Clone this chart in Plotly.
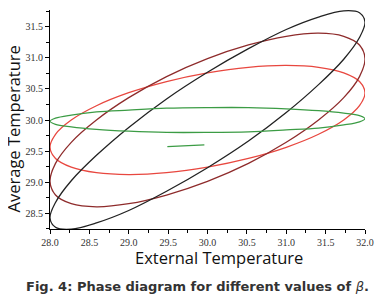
import plotly.graph_objects as go

# External temperature samples (shared forcing, one full cycle)
ext_temp = [32.00, 31.93, 31.73, 31.41, 31.00, 30.52, 30.00, 29.48, 29.00, 28.59, 28.27, 28.07,
            28.00, 28.07, 28.27, 28.59, 29.00, 29.48, 30.00, 30.52, 31.00, 31.41, 31.73, 31.93]

# Average temperature responses
avg_black = [31.58, 31.73, 31.76, 31.66, 31.46, 31.15, 30.77, 30.34, 29.88, 29.43, 29.02, 28.67,
             28.42, 28.27, 28.24, 28.34, 28.54, 28.85, 29.23, 29.66, 30.12, 30.57, 30.98, 31.33]
avg_maroon = [30.99, 31.21, 31.35, 31.40, 31.35, 31.21, 30.99, 30.70, 30.36, 30.00, 29.64, 29.30,
              29.01, 28.79, 28.65, 28.60, 28.65, 28.79, 29.01, 29.30, 29.64, 30.00, 30.36, 30.70]
avg_red = [30.44, 30.62, 30.76, 30.85, 30.88, 30.85, 30.76, 30.62, 30.44, 30.23, 30.00, 29.77,
           29.56, 29.38, 29.24, 29.15, 29.12, 29.15, 29.24, 29.38, 29.56, 29.77, 30.00, 30.23]
avg_green = [30.02, 30.07, 30.11, 30.15, 30.18, 30.20, 30.20, 30.19, 30.16, 30.13, 30.08, 30.03,
             29.98, 29.93, 29.89, 29.85, 29.82, 29.80, 29.80, 29.81, 29.84, 29.87, 29.92, 29.97]

# Short green transient segment
seg_x = [29.49, 29.72, 29.96]
seg_y = [29.57, 29.59, 29.60]

series = [
    (avg_red, "#e8473f"),
    (avg_maroon, "#8e2b2b"),
    (avg_black, "#222222"),
    (avg_green, "#3c9c45"),
]

fig = go.Figure()
for ys, col in series:
    fig.add_trace(go.Scatter(
        x=ext_temp + [ext_temp[0]], y=ys + [ys[0]], mode="lines",
        line=dict(color=col, width=1.3, shape="spline", smoothing=1.0),
        showlegend=False, hoverinfo="skip"))
fig.add_trace(go.Scatter(x=seg_x, y=seg_y, mode="lines",
                         line=dict(color="#3c9c45", width=1.3),
                         showlegend=False, hoverinfo="skip"))

axis_common = dict(
    showgrid=False, zeroline=False, showline=True, linecolor="#000", linewidth=1,
    ticks="outside", ticklen=4, tickcolor="#000", tickwidth=1,
    tickfont=dict(family="Liberation Serif", size=10, color="#333"),
    minor=dict(ticks="outside", ticklen=3, tickcolor="#000", dtick=0.25),
    dtick=0.5, tickformat=".1f", automargin=False,
)
fig.update_xaxes(range=[28.0, 32.0], tick0=28.0, **axis_common)
fig.update_yaxes(range=[28.242, 31.774], tick0=28.0, **axis_common)

# page body has an 8px margin; margins compensate so the plot area sits at x 50-365, y 10-229
fig.update_layout(
    width=382, height=300,
    margin=dict(l=42, r=25, t=2, b=79),
    paper_bgcolor="white", plot_bgcolor="white",
    annotations=[
        dict(text="Average Temperature", xref="paper", yref="paper", x=-0.116, y=0.4566,
             textangle=-90, showarrow=False, xanchor="center", yanchor="middle",
             font=dict(family="Open Sans", size=16.5, color="#111")),
        dict(text="External Temperature", xref="paper", yref="paper", x=0.5365, y=-0.13,
             showarrow=False, xanchor="center", yanchor="middle",
             font=dict(family="Open Sans", size=16.5, color="#111")),
        dict(text="<b>Fig. 4: Phase diagram for different values of </b><i>β</i><b>.</b>",
             xref="paper", yref="paper", x=0.468, y=-0.2603,
             showarrow=False, xanchor="center", yanchor="middle",
             font=dict(family="DejaVu Sans", size=13, color="#333")),
    ],
)
fig.write_html("out.html")
